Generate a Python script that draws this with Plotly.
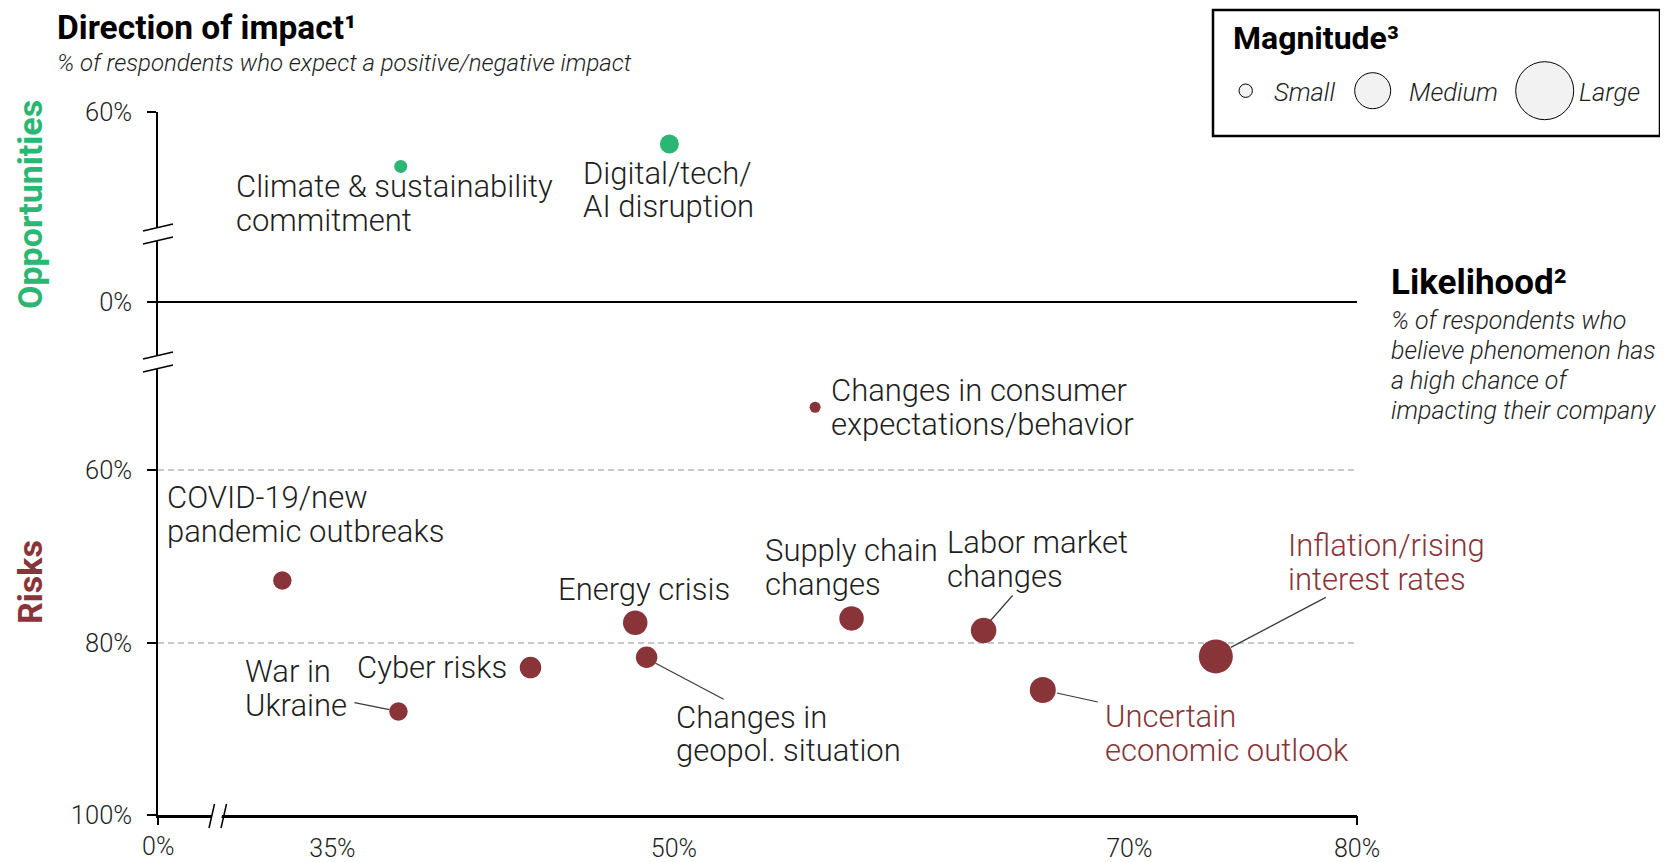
import plotly.graph_objects as go

# ---- data ----
# opportunities: positive impact
opp_names = ["Climate & sustainability<br>commitment", "Digital/tech/<br>AI disruption"]
opp_likelihood = [38.0, 49.8]
opp_impact = [53.7, 56.3]
opp_magnitude = [13, 19]

# risks: negative impact
risk_names = [
    "Changes in consumer<br>expectations/behavior",
    "COVID-19/new<br>pandemic outbreaks",
    "War in<br>Ukraine",
    "Cyber risks",
    "Energy crisis",
    "Changes in<br>geopol. situation",
    "Supply chain<br>changes",
    "Labor market<br>changes",
    "Uncertain<br>economic outlook",
    "Inflation/rising<br>interest rates",
]
risk_likelihood = [56.2, 32.8, 37.9, 43.7, 48.3, 48.8, 57.8, 63.6, 66.2, 73.8]
risk_impact = [52.7, 72.8, 88.0, 82.9, 77.7, 81.7, 77.2, 78.6, 85.5, 81.6]
risk_magnitude = [11, 18.5, 18.5, 21.5, 24.5, 21.5, 24.5, 25.5, 26, 34]

x_ticks = [35, 50, 70, 80]
risk_ticks = [60, 80, 100]
opp_ticks = [60]
legend_labels = ["Small", "Medium", "Large"]

# ---- styling / placement ----
GREEN = "#2BB673"
RED = "#883438"
GRID = "#C8C8C8"
TXT = "#1E1E1E"
FONT = "Roboto"

W, H = 1668, 862
OFF = 8  # page body margin
L, T = 158 - OFF, 112 - OFF
PW, PH = 1199, 703
R, B = W - L - PW, H - T - PH
SCR_L, SCR_B = 158, 815  # plot corner as it appears on screen

LINE_GAP = 33.5


def px(x):
    return (x - SCR_L) / PW


def py(y):
    return (SCR_B - y) / PH


# label placement (xanchor, xshift, shift of first line, screen down +)
opp_label_pos = [("left", -167, 20.5), ("left", -88, 29)]
risk_label_pos = [
    ("left", 14, -16.7),
    ("left", -117, -82.7),
    ("left", -155, -40),
    ("right", -22, 0),
    ("left", -79, -33),
    ("left", 27, 60),
    ("left", -89, -67.7),
    ("left", -39, -87.6),
    ("left", 60, 26.7),
    ("left", 70, -110.6),
]
red_labels = [8, 9]
# leader lines in pixels relative to the dot (y up)
leaders = {
    2: (-44, 9, -9, 2),
    5: (9, -6, 77, -42),
    7: (29, 35, 7, 10),
    8: (14, -3, 55, -12),
    9: (15, 9, 110, 59),
}


def add_lines(ann, text, gap, **kw):
    ys = kw.pop("yshift", 0)
    for k, line in enumerate(text.split("<br>")):
        ann.append(dict(text=line, showarrow=False, yanchor="middle", yshift=ys - k * gap, **kw))


def main():
    fig = go.Figure()
    fig.add_trace(go.Scatter(
        x=opp_likelihood, y=opp_impact, xaxis="x", yaxis="y3",
        mode="markers", hoverinfo="skip",
        marker=dict(size=opp_magnitude, sizemode="diameter", color=GREEN, opacity=1, line=dict(width=0)),
    ))
    fig.add_trace(go.Scatter(
        x=risk_likelihood, y=risk_impact, xaxis="x", yaxis="y",
        mode="markers", hoverinfo="skip",
        marker=dict(size=risk_magnitude, sizemode="diameter", color=RED, opacity=1, line=dict(width=0)),
    ))
    # empty traces so the helper axes (0% band, 0% tick, 80% tick) get drawn
    for xa, ya in [("x", "y2"), ("x2", "y"), ("x3", "y")]:
        fig.add_trace(go.Scatter(x=[], y=[], xaxis=xa, yaxis=ya, hoverinfo="skip"))

    lab_font = dict(size=31, color=TXT, family=FONT, weight=300)
    ann = []
    for i, name in enumerate(opp_names):
        xa, xs, ys = opp_label_pos[i]
        add_lines(ann, name, LINE_GAP, x=opp_likelihood[i], y=opp_impact[i], xref="x", yref="y3",
                  xanchor=xa, xshift=xs, yshift=-ys, font=lab_font)
    for i, name in enumerate(risk_names):
        xa, xs, ys = risk_label_pos[i]
        f = dict(lab_font, color=RED) if i in red_labels else lab_font
        add_lines(ann, name, LINE_GAP, x=risk_likelihood[i], y=risk_impact[i], xref="x", yref="y",
                  xanchor=xa, xshift=xs, yshift=-ys, font=f)

    bold = dict(size=34, color="black", family=FONT, weight=700)
    ital = dict(size=24, color=TXT, family=FONT, weight=300)
    # titles
    ann.append(dict(x=px(55), y=py(28), xref="paper", yref="paper", text="Direction of impact¹",
                    showarrow=False, xanchor="left", yanchor="middle", font=dict(bold, size=33.5)))
    ann.append(dict(x=px(55), y=py(63), xref="paper", yref="paper",
                    text="<i>% of respondents who expect a positive/negative impact</i>",
                    showarrow=False, xanchor="left", yanchor="middle", font=ital))
    ann.append(dict(x=px(30), y=py(205), xref="paper", yref="paper", text="Opportunities", textangle=-90,
                    showarrow=False, xanchor="center", yanchor="middle", font=dict(bold, color=GREEN)))
    ann.append(dict(x=px(30), y=py(582), xref="paper", yref="paper", text="Risks", textangle=-90,
                    showarrow=False, xanchor="center", yanchor="middle", font=dict(bold, color=RED)))
    ann.append(dict(x=px(1389), y=py(282), xref="paper", yref="paper", text="Likelihood²",
                    showarrow=False, xanchor="left", yanchor="middle", font=dict(bold, size=35)))
    add_lines(ann, "<i>% of respondents who</i><br><i>believe phenomenon has</i><br><i>a high chance of</i>"
                   "<br><i>impacting their company</i>", 30,
              x=px(1389), y=py(320), xref="paper", yref="paper", xanchor="left", font=dict(ital, size=25))

    # magnitude legend
    ann.append(dict(x=px(1231), y=py(38), xref="paper", yref="paper", text="Magnitude³",
                    showarrow=False, xanchor="left", yanchor="middle", font=dict(bold, size=32)))
    leg_x = [1245.7, 1372.7, 1544.7]
    leg_r = [6.7, 18, 29]
    leg_tx = [1271.7, 1406.7, 1577]
    shapes = [dict(type="rect", xref="paper", yref="paper", x0=px(1213), x1=px(1660), y0=py(136), y1=py(10),
                   line=dict(color="black", width=2.5), fillcolor="white", layer="above")]
    for i, lab in enumerate(legend_labels):
        shapes.append(dict(type="circle", xref="paper", yref="paper", xsizemode="pixel", ysizemode="pixel",
                           xanchor=px(leg_x[i]), yanchor=py(90.7), x0=-leg_r[i], x1=leg_r[i],
                           y0=-leg_r[i], y1=leg_r[i], fillcolor="#F2F2F2", line=dict(color="black", width=1),
                           layer="above"))
        ann.append(dict(x=px(leg_tx[i]), y=py(92), xref="paper", yref="paper", text="<i>" + lab + "</i>",
                        showarrow=False, xanchor="left", yanchor="middle", font=dict(ital, size=25.5)))

    # leader lines
    for i, (x0, y0, x1, y1) in leaders.items():
        shapes.append(dict(type="line", xref="x", yref="y", xsizemode="pixel", ysizemode="pixel",
                           xanchor=risk_likelihood[i], yanchor=risk_impact[i], x0=x0, y0=y0, x1=x1, y1=y1,
                           line=dict(color="#3A3A3A", width=1.2)))

    # axis breaks
    for yb in [234, 362]:
        shapes.append(dict(type="path", xref="paper", yref="paper", xsizemode="pixel", ysizemode="pixel",
                           xanchor=0, yanchor=py(yb), path="M -15,3 L 15,10 L 15,-3 L -15,-10 Z",
                           fillcolor="white", line=dict(width=0), layer="above"))
        for off in [6.5, -6.5]:
            shapes.append(dict(type="line", xref="paper", yref="paper", xsizemode="pixel", ysizemode="pixel",
                               xanchor=0, yanchor=py(yb), x0=-15, y0=off - 3.5, x1=15, y1=off + 3.5,
                               line=dict(color="black", width=1.5), layer="above"))
    shapes.append(dict(type="path", xref="paper", yref="paper", xsizemode="pixel", ysizemode="pixel",
                       xanchor=px(218), yanchor=0, path="M -7,-5 L -5,5 L 5,5 L 3,-5 Z",
                       fillcolor="white", line=dict(width=0), layer="above"))
    for off in [-6, 6]:
        shapes.append(dict(type="line", xref="paper", yref="paper", xsizemode="pixel", ysizemode="pixel",
                           xanchor=px(218), yanchor=0, x0=off - 3, y0=-13, x1=off + 2.5, y1=11,
                           line=dict(color="black", width=1.5), layer="above"))

    tickfont = dict(size=25.5, color=TXT, family=FONT, weight=300)
    ax_common = dict(showline=True, linecolor="black", linewidth=1.5, ticks="outside", ticklen=9,
                     tickwidth=1.5, tickcolor="black", tickfont=tickfont, ticklabelstandoff=10,
                     anchor="x", automargin=False, fixedrange=True)
    xt_common = dict(ticks="outside", ticklen=9, tickwidth=1.5, tickcolor="black",
                     tickfont=dict(tickfont, size=25), ticklabelstandoff=0,
                     showgrid=False, zeroline=False, anchor="y", automargin=False)

    fig.update_layout(
        width=W, height=H,
        margin=dict(l=L, r=R, t=T, b=B, pad=0, autoexpand=False),
        paper_bgcolor="white", plot_bgcolor="white",
        showlegend=False,
        font=dict(family=FONT, color=TXT),
        xaxis=dict(xt_common, domain=[0, 1], range=[27.34, 80], tickvals=x_ticks,
                   ticktext=[f"{v}%" for v in x_ticks], tickcolor="rgba(0,0,0,0)",
                   showline=True, linecolor="black", linewidth=2.5),
        xaxis2=dict(xt_common, domain=[0, 0.04], range=[-0.005, 1], tickvals=[0], ticktext=["0%"],
                    showline=False),
        xaxis3=dict(xt_common, overlaying="x", range=[27.34, 80], tickvals=[80], showticklabels=False,
                    showline=False),
        yaxis=dict(ax_common, domain=[0, py(362)], range=[100, 47.45], tickvals=risk_ticks,
                   ticktext=[f"{v}%" for v in risk_ticks], showgrid=True, gridcolor=GRID,
                   griddash="6px,4px", gridwidth=1.5, zeroline=False),
        yaxis2=dict(ax_common, domain=[py(362), py(234)], range=[-0.4664, 0.5336], tickvals=[0],
                    ticktext=["0%"], showgrid=False, zeroline=True, zerolinecolor="black", zerolinewidth=1.5),
        yaxis3=dict(ax_common, domain=[py(234), 1], range=[45.85, 60.02], tickvals=opp_ticks,
                    ticktext=[f"{v}%" for v in opp_ticks], showgrid=True, gridcolor=GRID,
                    griddash="6px,4px", gridwidth=1.5, zeroline=False),
        annotations=ann,
        shapes=shapes,
    )
    fig.write_html("out.html")


if __name__ == "__main__":
    main()
